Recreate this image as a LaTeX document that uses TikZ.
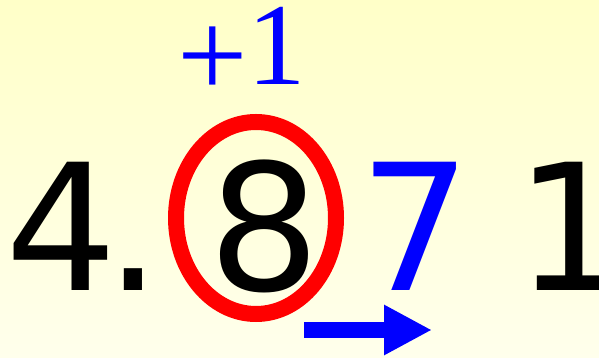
\documentclass[tikz,border=0pt]{standalone}
\usepackage{fontspec}
\setmainfont{Liberation Serif}
\newfontfamily\digitfont{DejaVu Sans}
\usetikzlibrary{arrows.meta, shapes.geometric}
\definecolor{bgtop}{RGB}{255,255,200}
\definecolor{bgbot}{RGB}{255,255,236}

\begin{document}
\begin{tikzpicture}[
    x=1pt, y=1pt,
    digit/.style={
      inner sep=0pt, anchor=base,
      font=\digitfont\fontsize{176}{176}\selectfont},
    carry/.style={
      inner sep=0pt, anchor=base west, text=blue,
      font=\rmfamily\fontsize{117}{117}\selectfont},
    ring/.style={
      draw=red, line width=16pt, ellipse, inner sep=0pt,
      minimum width=160pt, minimum height=192pt},
    droparrow/.style={
      blue, line width=16pt,
      -{Triangle[length=48pt, width=47pt]}},
]

% ---- background ----
\useasboundingbox (0,0) rectangle (599,358);
\shade[top color=bgtop, bottom color=bgbot] (0,0) rectangle (599,358);

% ---- the number ----
\node[digit]            (d4)  at (61,67)    {4};
\node[digit]            (dot) at (133,67)   {.};
\node[digit]            (d8)  at (264,67)   {8};
\node[digit, text=blue] (d7)  at (415,67)   {7};
\node[digit]            (d1)  at (571,67)   {1};

% ---- rounding: circle the kept digit, carry one ----
\node[ring] (ring8) at (256,140) {};
\node[carry] (plus) at (177,273)
  {{\fontsize{125}{125}\selectfont\raisebox{-13pt}{+}}1};

% ---- arrow under the dropped digit ----
\coordinate (dropL) at (304,28);
\coordinate (dropR) at (432,28);
\draw[droparrow] (dropL) -- (dropR);

\end{tikzpicture}
\end{document}
